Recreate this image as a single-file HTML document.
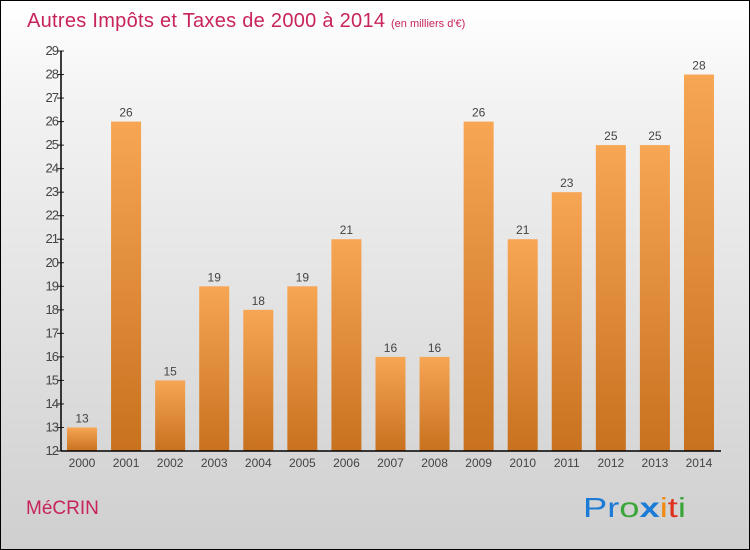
<!DOCTYPE html>
<html><head><meta charset="utf-8"><style>
body{margin:0}
#c{width:748px;height:548px;border:1px solid #000;background:linear-gradient(#fff,#f2f2f2 20%,#cfcfcf);position:relative;overflow:hidden;font-family:"Liberation Sans",sans-serif}
</style></head><body>
<div id="c">
<svg id="s" width="748" height="548" style="position:absolute;left:0;top:0">
<defs><linearGradient id="g" x1="0" y1="0" x2="0" y2="1"><stop offset="0" stop-color="#f7a654"/><stop offset="1" stop-color="#c8711f"/></linearGradient></defs>
<text x="26" y="26" font-size="20" fill="#c8245a" textLength="358">Autres Impôts et Taxes de 2000 à 2014</text>
<text x="390" y="26" font-size="11" fill="#c8245a">(en milliers d'€)</text>
<text x="25" y="513" font-size="19" fill="#c8245a">MéCRIN</text>
<text x="582" y="516" font-size="28" textLength="103" lengthAdjust="spacingAndGlyphs"><tspan fill="#1b7bd6">Pr</tspan><tspan fill="#3aa53a">o</tspan><tspan fill="#1b7bd6" font-weight="bold">x</tspan><tspan fill="#f28a12">i</tspan><tspan fill="#e0301e">t</tspan><tspan fill="#3aa53a">i</tspan></text>
<g id="plot"></g>
</svg>
</div>
<script>
const categories=["2000","2001","2002","2003","2004","2005","2006","2007","2008","2009","2010","2011","2012","2013","2014"];
const values=[13,26,15,19,18,19,21,16,16,26,21,23,25,25,28];
const yTicks=[12,13,14,15,16,17,18,19,20,21,22,23,24,25,26,27,28,29];
const NS="http://www.w3.org/2000/svg";
const g=document.getElementById('plot');
const y=v=>450-(v-12)*(400/17);
const x=i=>81+i*44.07;
function el(t,a,txt){const e=document.createElementNS(NS,t);for(const k in a)e.setAttribute(k,a[k]);if(txt!=null)e.textContent=txt;g.appendChild(e);return e;}
values.forEach((v,i)=>{
 const r=el('rect',{x:x(i)-15,y:y(v),width:30,height:y(12)-y(v),fill:'url(#g)'});
 
 
 const t=el('text',{x:x(i),y:y(v)-5,'font-size':12,fill:'#444','text-anchor':'middle'},v);
 
 
 const c=el('text',{x:x(i),y:466,'font-size':12,fill:'#444','text-anchor':'middle'},categories[i]);
 
 
});
yTicks.forEach(v=>{
 const l=el('line',{x1:56,x2:63,y1:y(v),y2:y(v),stroke:'#222'});
 
 
 const t=el('text',{x:57,y:y(v)+4,'font-size':13,fill:'#444','text-anchor':'end','letter-spacing':'-1'},v);
 
 
});
const ya=el('line',{x1:60,x2:60,y1:y(29),y2:y(12),stroke:'#000','stroke-width':1.5});


const xa=el('line',{x1:60,x2:720,y1:y(12),y2:y(12),stroke:'#000','stroke-width':1.5});


</script>
</body></html>
